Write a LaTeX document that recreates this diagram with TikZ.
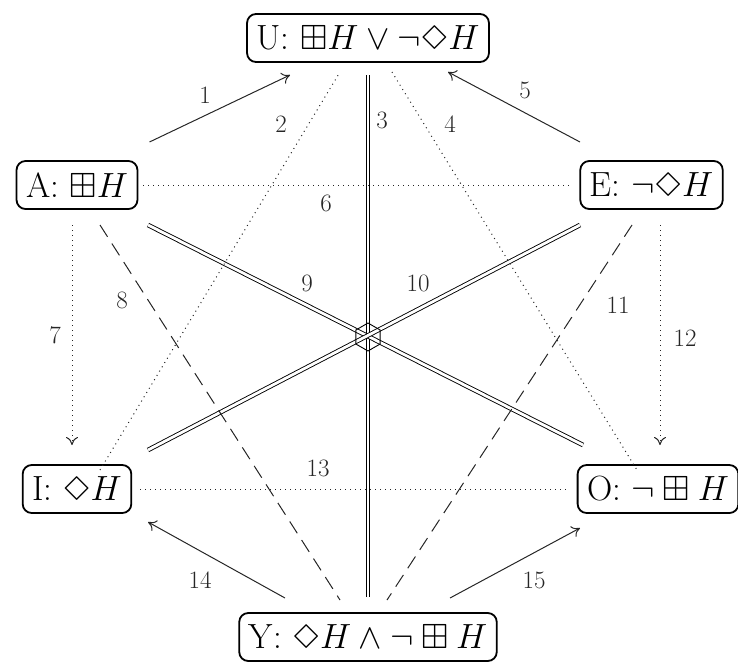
\RequirePackage{fix-cm}
\documentclass[tikz,border=0pt]{standalone}
\usepackage{amssymb}
\usepackage{fontspec}
\DeclareFontFamily{U}{mylasy}{}
\DeclareFontShape{U}{mylasy}{m}{n}{<->lasy10}{}
\DeclareSymbolFont{mylasy}{U}{mylasy}{m}{n}
\DeclareMathSymbol{\sqdiam}{\mathord}{mylasy}{"33}
\usetikzlibrary{arrows.meta,shapes.geometric}
\begin{document}
\begin{tikzpicture}[x=1pt,y=-1pt,
  prop/.style={draw, line width=1.8pt, rounded corners=9pt, inner xsep=9.5pt, inner ysep=2pt, minimum height=48pt, font=\fontsize{35}{40}\selectfont},
  lab/.style={font=\fontsize{25}{28}\selectfont, text=black!85, inner sep=0pt},
  ln/.style={line width=1pt, draw=black!85},
  arr/.style={ln, -{Computer Modern Rightarrow[length=8pt,width=12pt]}},
  dots/.style={line width=1pt, draw=black!85, dash pattern=on 1pt off 4pt},
  dotarr/.style={dots, -{Computer Modern Rightarrow[length=8pt,width=12pt]}},
  dsh/.style={ln, dash pattern=on 14pt off 8pt},
  dbl/.style={double, double distance=2.8pt, line width=0.9pt},
]
\useasboundingbox (0,0) rectangle (738,667);
% propositions
\node[prop] (U) at (368,38) {U: $\boxplus H\vee\neg\sqdiam H$};
\node[prop] (A) at (77,185) {A: $\boxplus H$};
\node[prop] (E) at (651.5,185) {E: $\neg\sqdiam H$};
\node[prop] (I) at (77,489) {I: $\sqdiam H$};
\node[prop] (O) at (658,489) {O: $\neg\boxplus H$};
\node[prop] (Y) at (368,637) {Y: $\sqdiam H\wedge\neg\boxplus H$};
% double lines
\draw[dbl] ([shift={(0,37)}]U.center) -- ([shift={(0,-40)}]Y.center);
\draw[dbl] ([shift={(71,40)}]A.center) -- ([shift={(-75,-44)}]O.center);
\draw[dbl] ([shift={(71,-39)}]I.center) -- ([shift={(-71.5,40)}]E.center);
% centre hexagon
\node[regular polygon, regular polygon sides=6, shape border rotate=30, draw, line width=0.9pt, minimum size=28pt, inner sep=0pt] (C) at (368,337) {};
% arrows
\draw[arr] ([shift={(72.5,-43)}]A.center) -- ([shift={(-78,37)}]U.center);
\draw[arr] ([shift={(-71.5,-43)}]E.center) -- ([shift={(80,34)}]U.center);
\draw[arr] ([shift={(-83,-39)}]Y.center) -- ([shift={(71,33)}]I.center);
\draw[arr] ([shift={(82,-39)}]Y.center) -- ([shift={(-78,39)}]O.center);
% dotted
\draw[dots] ([shift={(23,-19)}]I.center) -- ([shift={(-28,34)}]U.center);
\draw[dots] ([shift={(24,34)}]U.center) -- ([shift={(-21,-19)}]O.center);
\draw[dots] ([xshift=5pt]A.east) -- ([xshift=-8pt]E.west);
\draw[dots] ([xshift=8pt]I.east) -- ([xshift=-9pt]O.west);
\draw[dotarr] ([shift={(-5,40)}]A.center) -- ([shift={(-5,-44)}]I.center);
\draw[dotarr] ([shift={(8.5,40)}]E.center) -- ([shift={(2,-44)}]O.center);
% dashed
\draw[dsh] ([shift={(23,40)}]A.center) -- ([shift={(-28,-37)}]Y.center);
\draw[dsh] ([shift={(-19.5,40)}]E.center) -- ([shift={(19,-37)}]Y.center);
% labels
\node[lab] (l1) at (205,95) {1};
\node[lab] (l2) at (281,124) {2};
\node[lab] (l3) at (382,120) {3};
\node[lab] (l4) at (450,124) {4};
\node[lab] (l5) at (525,90) {5};
\node[lab] (l6) at (326,203) {6};
\node[lab] (l7) at (55,335) {7};
\node[lab] (l8) at (122,300) {8};
\node[lab] (l9) at (307,283) {9};
\node[lab] (l10) at (418,283) {10};
\node[lab] (l11) at (618,305) {11};
\node[lab] (l12) at (685,338) {12};
\node[lab] (l13) at (318,468) {13};
\node[lab] (l14) at (200,580) {14};
\node[lab] (l15) at (534,580) {15};
\end{tikzpicture}
\end{document}
